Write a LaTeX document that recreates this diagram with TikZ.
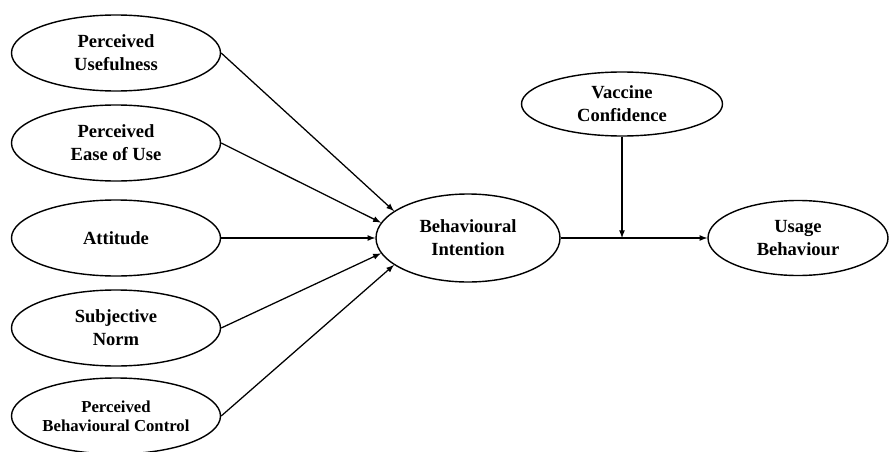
\documentclass[tikz,border=0pt]{standalone}
\usepackage{fontspec}
\setmainfont{Liberation Serif}
\usepackage{tikz}
\usetikzlibrary{shapes.geometric}

\begin{document}
\begin{tikzpicture}[
  construct/.style={draw, ellipse, line width=1pt, inner sep=0pt, align=center,
    minimum width=5.225cm, minimum height=1.9cm,
    font=\bfseries\fontsize{13.2}{16.4}\selectfont},
  arrow/.style={->, line width=0.9pt, >=latex}
]
\useasboundingbox (0,0) rectangle (22.25,11.275);

% Left column: predictors
\node[construct] (pu) at (2.9, 9.95) {Perceived\\Usefulness};
\node[construct] (peou) at (2.9, 7.7) {Perceived\\Ease of Use};
\node[construct] (att) at (2.9, 5.325) {Attitude};
\node[construct] (sn) at (2.9, 3.075) {Subjective\\Norm};
\node[construct, font=\bfseries\fontsize{11.9}{13.8}\selectfont] (pbc) at (2.9, 0.875) {Perceived\\Behavioural Control};

% Middle and right
\node[construct, minimum width=4.6cm, minimum height=2.2cm] (bi) at (11.7, 5.325) {Behavioural\\Intention};
\node[construct, minimum width=5.025cm, minimum height=1.6cm] (vc) at (15.55, 8.675) {Vaccine\\Confidence};
\node[construct, minimum width=4.5cm, minimum height=1.875cm] (ub) at (19.95, 5.325) {Usage\\Behaviour};

% Paths into intention
\draw[arrow] (pu.east) -- (bi.160);
\draw[arrow] (peou.east) -- (bi.170);
\draw[arrow] (att.east) -- (bi.west);
\draw[arrow] (sn.east) -- (bi.190);
\draw[arrow] (pbc.east) -- (bi.200);

% Intention to behaviour, moderated by confidence
\coordinate (mod) at (vc.south |- bi.east);
\draw[arrow] (bi.east) -- (ub.west);
\draw[arrow] (vc.south) -- (mod);
\end{tikzpicture}
\end{document}
